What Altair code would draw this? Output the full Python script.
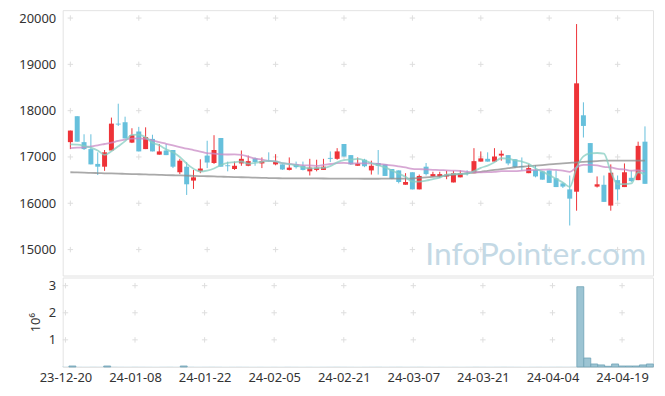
import json
import altair as alt
import pandas as pd

# ---------------- data ----------------
dates = [
    "23-12-20", "23-12-21", "23-12-22", "23-12-26", "23-12-27", "23-12-28",
    "24-01-02", "24-01-03", "24-01-04", "24-01-05", "24-01-08", "24-01-09",
    "24-01-10", "24-01-11", "24-01-12", "24-01-15", "24-01-16", "24-01-17",
    "24-01-18", "24-01-19", "24-01-22", "24-01-23", "24-01-24", "24-01-25",
    "24-01-26", "24-01-29", "24-01-30", "24-01-31", "24-02-01", "24-02-02",
    "24-02-05", "24-02-06", "24-02-07", "24-02-08", "24-02-13", "24-02-14",
    "24-02-15", "24-02-16", "24-02-19", "24-02-20", "24-02-21", "24-02-22",
    "24-02-23", "24-02-26", "24-02-27", "24-02-28", "24-02-29", "24-03-04",
    "24-03-05", "24-03-06", "24-03-07", "24-03-08", "24-03-11", "24-03-12",
    "24-03-13", "24-03-14", "24-03-15", "24-03-18", "24-03-19", "24-03-20",
    "24-03-21", "24-03-22", "24-03-25", "24-03-26", "24-03-27", "24-03-28",
    "24-03-29", "24-04-01", "24-04-02", "24-04-03", "24-04-04", "24-04-05",
    "24-04-08", "24-04-09", "24-04-11", "24-04-12", "24-04-15", "24-04-16",
    "24-04-17", "24-04-18", "24-04-19", "24-04-22", "24-04-23", "24-04-24",
    "24-04-25",
]

opens = [
    17320, 17880, 17320, 17170, 16850, 16790, 17140, 17720, 17750, 17310,
    17550, 17170, 17390, 17050, 17140, 17150, 16670, 16790, 16490, 16690,
    17030, 16870, 17410, 16820, 16740, 16860, 16810, 16970, 16860, 16920,
    16840, 16840, 16720, 16840, 16810, 16690, 16720, 16720, 16980, 16960,
    17280, 17040, 16810, 16940, 16710, 16870, 16840, 16740, 16710, 16400,
    16670, 16300, 16790, 16580, 16580, 16580, 16450, 16560, 16660, 16650,
    16900, 16960, 16900, 17030, 17040, 16950, 16800, 16650, 16720, 16690,
    16710, 16540, 16430, 16300, 16250, 17900, 17300, 16360, 16400, 15950,
    16500, 16350, 16550, 16500, 17330,
]
highs = [
    17570, 17880, 17490, 17490, 17100, 17150, 17850, 18150, 17870, 17620,
    17650, 17640, 17480, 17280, 17280, 17150, 16960, 16890, 16720, 16950,
    17350, 17470, 17410, 16900, 16900, 17140, 17030, 16990, 16990, 17100,
    17060, 16840, 16990, 16900, 16900, 16960, 16940, 16960, 17120, 17190,
    17280, 17040, 16990, 16960, 16920, 17150, 16840, 16740, 16710, 16650,
    16670, 16620, 16870, 16680, 16680, 16700, 16700, 16710, 16710, 17190,
    17120, 17100, 17190, 17140, 17040, 16950, 16990, 16840, 16820, 16690,
    16710, 16710, 16450, 16600, 19870, 18180, 17300, 16580, 16600, 16840,
    16600, 16860, 16700, 17330, 17660,
]
lows = [
    17170, 17330, 17150, 16840, 16610, 16700, 17140, 17670, 17400, 17300,
    17120, 17170, 17120, 17050, 17040, 16760, 16630, 16180, 16310, 16650,
    16760, 16850, 16790, 16690, 16720, 16810, 16800, 16810, 16760, 16900,
    16820, 16720, 16710, 16750, 16710, 16600, 16690, 16720, 16890, 16940,
    17010, 16830, 16810, 16780, 16620, 16620, 16590, 16520, 16430, 16400,
    16300, 16300, 16600, 16580, 16550, 16520, 16450, 16560, 16600, 16650,
    16900, 16900, 16900, 16920, 16820, 16760, 16710, 16650, 16560, 16510,
    16440, 16350, 16330, 15520, 15840, 17420, 16660, 16340, 16030, 15840,
    16060, 16350, 16460, 16500, 16420,
]
closes = [
    17570, 17330, 17170, 16840, 16790, 17100, 17720, 17700, 17400, 17470,
    17120, 17430, 17120, 17120, 17040, 16790, 16920, 16410, 16560, 16750,
    16880, 17150, 16790, 16800, 16810, 16960, 16910, 16890, 16910, 16910,
    16900, 16730, 16770, 16780, 16720, 16770, 16770, 16790, 16960, 17120,
    17010, 16840, 16860, 16800, 16810, 16810, 16590, 16530, 16460, 16460,
    16300, 16590, 16630, 16630, 16630, 16620, 16650, 16650, 16640, 16910,
    16970, 16900, 17010, 17070, 16860, 16780, 16780, 16760, 16580, 16510,
    16440, 16350, 16360, 16100, 18590, 17670, 16660, 16410, 16030, 16660,
    16300, 16670, 16480, 17240, 16420,
]
volumes = [
    9000, 36000, 8000, 7000, 9000, 8000, 36000, 10000, 8000, 7000,
    9000, 8000, 7000, 6000, 8000, 9000, 7000, 36000, 9000, 7000,
    8000, 9000, 8000, 6000, 7000, 8000, 7000, 6000, 7000, 6000,
    7000, 6000, 8000, 7000, 6000, 7000, 6000, 7000, 8000, 9000,
    8000, 7000, 6000, 7000, 8000, 9000, 7000, 8000, 9000, 7000,
    8000, 9000, 7000, 6000, 7000, 6000, 7000, 6000, 7000, 9000,
    8000, 7000, 8000, 9000, 8000, 7000, 6000, 7000, 8000, 7000,
    8000, 9000, 8000, 12000, 2960000, 330000, 110000, 75000, 25000, 110000,
    36000, 36000, 36000, 75000, 110000,
]
ma5 = [
    17270, 17265, 17240, 17200, 17140, 17046, 17124, 17230, 17342, 17478,
    17482, 17424, 17308, 17252, 17166, 17100, 16998, 16856, 16744, 16686,
    16704, 16750, 16826, 16874, 16886, 16902, 16854, 16874, 16896, 16916,
    16904, 16868, 16844, 16818, 16780, 16754, 16762, 16766, 16802, 16882,
    16930, 16944, 16958, 16926, 16864, 16824, 16774, 16708, 16640, 16570,
    16468, 16468, 16488, 16522, 16556, 16620, 16632, 16636, 16638, 16694,
    16764, 16814, 16886, 16972, 16962, 16924, 16900, 16850, 16752, 16682,
    16614, 16528, 16448, 16352, 16768, 17014, 17076, 17086, 17072, 16686,
    16412, 16414, 16428, 16670, 16622,
]
ma20 = [
    17190, 17200, 17210, 17230, 17250, 17280, 17310, 17345, 17375, 17395,
    17400, 17390, 17360, 17320, 17285, 17250, 17215, 17180, 17150, 17118,
    17083, 17074, 17055, 17053, 17054, 17047, 17007, 16966, 16942, 16914,
    16903, 16868, 16850, 16833, 16817, 16816, 16809, 16828, 16848, 16866,
    16873, 16857, 16861, 16861, 16861, 16853, 16837, 16819, 16797, 16774,
    16744, 16737, 16730, 16723, 16718, 16711, 16705, 16698, 16682, 16671,
    16669, 16672, 16680, 16693, 16696, 16694, 16704, 16715, 16721, 16724,
    16731, 16719, 16705, 16679, 16777, 16829, 16830, 16818, 16787, 16775,
    16741, 16730, 16703, 16712, 16690,
]
ma60 = [
    16670, 16666, 16661, 16657, 16653, 16648, 16644, 16640, 16636, 16631,
    16627, 16623, 16618, 16614, 16610, 16605, 16601, 16597, 16592, 16588,
    16584, 16580, 16575, 16571, 16567, 16562, 16558, 16554, 16549, 16545,
    16541, 16540, 16539, 16538, 16538, 16537, 16536, 16535, 16534, 16533,
    16532, 16532, 16531, 16530, 16530, 16530, 16531, 16532, 16533, 16534,
    16535, 16547, 16559, 16571, 16583, 16600, 16616, 16632, 16648, 16664,
    16680, 16700, 16719, 16739, 16758, 16778, 16790, 16802, 16814, 16826,
    16838, 16849, 16861, 16873, 16885, 16894, 16902, 16911, 16920, 16920,
    16921, 16921, 16922, 16922, 16922,
]

price_ticks = [15000, 16000, 17000, 18000, 19000, 20000]
vol_ticks = [1000000, 2000000, 3000000]
label_idx = list(range(0, 81, 10))

# ---------------- styling ----------------
UP = "#ee3338"
DOWN = "#66c0dc"
FONT = "Noto Sans"
TXT = "#333333"
W = 594
H_TOP = 267
H_BOT = 90

n = len(dates)
df = pd.DataFrame({
    "i": list(range(n)), "date": dates, "open": opens, "high": highs,
    "low": lows, "close": closes, "vol": volumes,
})
df["dir"] = ["up" if c >= o else "down" for o, c in zip(opens, closes)]

ma_df = pd.concat([
    pd.DataFrame({"i": list(range(n)), "v": ma60, "s": "ma60"}),
    pd.DataFrame({"i": list(range(n)), "v": ma20, "s": "ma20"}),
    pd.DataFrame({"i": list(range(n)), "v": ma5, "s": "ma5"}),
])

grid_top = pd.DataFrame([(x, y) for x in label_idx for y in price_ticks], columns=["i", "y"])
grid_bot = pd.DataFrame([(x, y) for x in label_idx for y in vol_ticks], columns=["i", "y"])

label_expr = json.dumps(dates) + "[datum.value]"

xscale = alt.Scale(domain=[-0.4, 84.45], nice=False, zero=False)
yscale = alt.Scale(domain=[14440, 20170], nice=False, zero=False)
vscale = alt.Scale(domain=[0, 3300000], nice=False, zero=False)

cross = "M-1,0L1,0M0,-1L0,1"

# ---------------- upper panel ----------------
xt = alt.X("i:Q", scale=xscale, axis=None)

g1 = alt.Chart(grid_top).mark_point(shape=cross, size=30, filled=False,
                                     stroke="#dedede", strokeWidth=1, opacity=1).encode(
    x=xt,
    y=alt.Y("y:Q", scale=yscale,
            axis=alt.Axis(values=price_ticks, format="d", title=None, ticks=False, domain=False,
                          grid=False, labelPadding=7, labelFontSize=13,
                          labelColor=TXT, labelFont=FONT)),
)

wicks = alt.Chart(df).mark_rule(strokeWidth=1).encode(
    x=xt,
    y=alt.Y("low:Q", scale=yscale),
    y2="high:Q",
    color=alt.Color("dir:N", scale=alt.Scale(domain=["up", "down"], range=[UP, DOWN]), legend=None),
)
bodies = alt.Chart(df).mark_bar(size=5).encode(
    x=xt,
    y=alt.Y("open:Q", scale=yscale),
    y2="close:Q",
    color=alt.Color("dir:N", scale=alt.Scale(domain=["up", "down"], range=[UP, DOWN]), legend=None),
)
lines = alt.Chart(ma_df).mark_line(strokeWidth=1.8, opacity=0.75, interpolate="monotone").encode(
    x=xt,
    y=alt.Y("v:Q", scale=yscale),
    stroke=alt.Stroke("s:N", scale=alt.Scale(domain=["ma60", "ma20", "ma5"],
                                             range=["#8c8c8c", "#c98bc6", "#86cdc1"]), legend=None),
    detail="s:N",
)
wm = alt.Chart(pd.DataFrame({"t": ["InfoPointer.com"]})).mark_text(
    align="right", baseline="alphabetic", font="Lato", fontSize=32,
    color="#c4d9e5",
).encode(text="t:N", x=alt.value(587), y=alt.value(256))

upper = alt.layer(g1, wm, wicks, bodies, lines).properties(width=W, height=H_TOP)

# ---------------- lower panel ----------------
xb = alt.X("x0:Q", scale=xscale,
           axis=alt.Axis(values=label_idx, labelExpr=label_expr, title=None, ticks=False,
                         domain=False, grid=False, labelPadding=5, labelFontSize=13,
                         labelColor=TXT, labelFont=FONT, labelAngle=0, labelFlush=False))

g2 = alt.Chart(grid_bot).transform_calculate(x0="datum.i").mark_point(
    shape=cross, size=30, filled=False, stroke="#dedede", strokeWidth=1, opacity=1).encode(
    x=xb,
    y=alt.Y("y:Q", scale=vscale,
            axis=alt.Axis(values=vol_ticks, labelExpr="datum.value / 1000000",
                          title="10⁶", titleFontSize=13, titleFontWeight="normal",
                          titleColor=TXT, titleFont=FONT, titlePadding=6,
                          ticks=False, domain=False, grid=False, labelPadding=7,
                          labelFontSize=13, labelColor=TXT, labelFont=FONT)),
)
vbars = alt.Chart(df).transform_calculate(
    x0="datum.i - 0.5", x1="datum.i + 0.5"
).mark_bar(fill="#9cc4d3", strokeWidth=0.8).encode(
    x=xb,
    x2="x1:Q",
    y=alt.Y("vol:Q", scale=vscale),
    y2=alt.datum(0),
    stroke=alt.condition("datum.vol > 20000", alt.value("#6fa2b6"), alt.value("transparent")),
)
lower = alt.layer(g2, vbars).properties(width=W, height=H_BOT)

chart = alt.vconcat(upper, lower, spacing=0).properties(
    padding={"left": 10, "top": 0, "right": 2, "bottom": 2},
    background="white",
).configure_view(stroke="#e3e3e3", strokeWidth=1)

chart.save("out.html", embed_options={"renderer": "svg", "actions": False})
